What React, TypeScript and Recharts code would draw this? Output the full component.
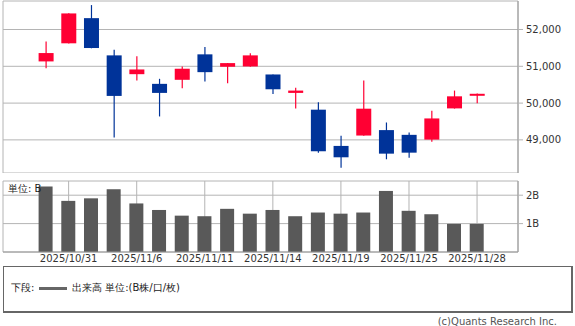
import React from 'react';
import { ComposedChart, Bar, XAxis, YAxis, CartesianGrid } from 'recharts';

const dates = [
  '2025/10/30', '2025/10/31', '2025/11/4', '2025/11/5', '2025/11/6',
  '2025/11/7', '2025/11/10', '2025/11/11', '2025/11/12', '2025/11/13',
  '2025/11/14', '2025/11/17', '2025/11/18', '2025/11/19', '2025/11/20',
  '2025/11/21', '2025/11/25', '2025/11/26', '2025/11/27', '2025/11/28',
];
const opens = [51133, 51625, 52309, 51297, 50786, 50523, 50633, 51325, 50988, 50996, 50778, 50277, 49821, 48836, 49118, 49266, 49137, 49008, 49856, 50231];
const highs = [51672, 52440, 52664, 51453, 51270, 50660, 50996, 51524, 51090, 51352, 50780, 50414, 50020, 49110, 50614, 49473, 49200, 49793, 50340, 50258];
const lows = [50950, 51620, 51490, 49063, 50614, 49637, 50403, 50586, 50540, 50990, 50250, 49856, 48653, 48243, 49110, 48473, 48516, 48946, 49850, 49993];
const closes = [51360, 52437, 51497, 50195, 50914, 50277, 50934, 50841, 51087, 51297, 50376, 50340, 48691, 48527, 49848, 48626, 48653, 49583, 50184, 50253];
const volumes = [2.31, 1.8, 1.89, 2.21, 1.71, 1.48, 1.28, 1.26, 1.52, 1.35, 1.48, 1.26, 1.39, 1.35, 1.39, 2.15, 1.45, 1.33, 0.99, 0.99];

const dateTicks = ['2025/10/31', '2025/11/6', '2025/11/11', '2025/11/14', '2025/11/19', '2025/11/25', '2025/11/28'];
const priceTicks = [49000, 50000, 51000, 52000];
const volumeTicks = [1, 2];

const RED = '#ff0033';
const BLUE = '#003399';
const GRID = '#b4b4b4';
const BORDER = '#9a9a9a';
const FONT = '"DejaVu Sans", sans-serif';

const data = dates.map((d, i) => ({
  date: d,
  open: opens[i],
  high: highs[i],
  low: lows[i],
  close: closes[i],
  range: [lows[i], highs[i]],
  volume: volumes[i],
}));

const PAD = { left: 31.6, right: 29.6 };

function Candle(props: any) {
  const { x, y, width, height, payload } = props;
  const { open, close, high, low } = payload;
  const color = close >= open ? RED : BLUE;
  const span = high - low || 1;
  const py = (v: number) => y + ((high - v) / span) * height;
  const top = py(Math.max(open, close));
  const bot = py(Math.min(open, close));
  const cx = x + width / 2;
  return (
    <g>
      <line x1={cx} x2={cx} y1={y} y2={y + height} stroke={color} strokeWidth={1.2} />
      <rect x={x} y={top} width={width} height={Math.max(bot - top, 2)} fill={color} />
    </g>
  );
}

const tickStyle = { fill: '#333', fontSize: 10, fontFamily: FONT };

export default function App() {
  return (
    <div style={{ position: 'absolute', left: 0, top: 0, width: 575, height: 326, background: '#fff', fontFamily: FONT }}>
      <ComposedChart width={575} height={173} data={data} margin={{ top: 1, right: 0, left: 3, bottom: 0 }}>
        <CartesianGrid stroke={GRID} />
        <XAxis dataKey="date" ticks={dateTicks} interval={0} padding={PAD} height={0} tick={false} tickLine={false} axisLine={{ stroke: BORDER }} />
        <XAxis xAxisId="top" dataKey="date" orientation="top" padding={PAD} height={0} tick={false} tickLine={false} axisLine={{ stroke: BORDER }} />
        <YAxis yAxisId="left" orientation="left" width={0} domain={[48100, 52775]} tick={false} tickLine={false} axisLine={{ stroke: BORDER }} />
        <YAxis
          orientation="right"
          width={57}
          domain={[48100, 52775]}
          ticks={priceTicks}
          tickFormatter={(v: number) => v.toLocaleString('en-US')}
          tick={tickStyle}
          tickSize={5}
          tickMargin={3}
          tickLine={{ stroke: GRID }}
          axisLine={{ stroke: BORDER }}
        />
        <Bar dataKey="range" barSize={15} shape={<Candle />} isAnimationActive={false} />
      </ComposedChart>

      <ComposedChart width={575} height={93} data={data} margin={{ top: 8, right: 0, left: 3, bottom: 0 }}>
        <CartesianGrid stroke={GRID} />
        <XAxis dataKey="date" ticks={dateTicks} interval={0} padding={PAD} height={14} tick={tickStyle} tickSize={0} tickMargin={3} tickLine={false} axisLine={{ stroke: BORDER }} />
        <XAxis xAxisId="top" dataKey="date" orientation="top" padding={PAD} height={0} tick={false} tickLine={false} axisLine={{ stroke: BORDER }} />
        <YAxis yAxisId="left" orientation="left" width={0} domain={[0, 2.5]} tick={false} tickLine={false} axisLine={{ stroke: BORDER }} />
        <YAxis
          orientation="right"
          width={57}
          domain={[0, 2.5]}
          ticks={volumeTicks}
          tickFormatter={(v: number) => `${v}B`}
          tick={tickStyle}
          tickSize={5}
          tickMargin={3}
          tickLine={{ stroke: GRID }}
          axisLine={{ stroke: BORDER }}
        />
        <Bar dataKey="volume" barSize={14} fill="#595959" isAnimationActive={false} />
      </ComposedChart>

      <div style={{ position: 'absolute', left: 8, top: 183, fontSize: 10, color: '#222', lineHeight: '12px' }}>単位: B</div>

      <div
        style={{
          position: 'absolute',
          left: 3,
          top: 266,
          width: 567,
          height: 44,
          border: '1px solid #666',
          borderRightWidth: 2,
          borderBottomWidth: 2,
          fontSize: 10,
          color: '#222',
        }}
      >
        <span style={{ position: 'absolute', left: 7, top: 14 }}>下段:</span>
        <span style={{ position: 'absolute', left: 35, top: 20, width: 28, height: 3, background: '#666' }} />
        <span style={{ position: 'absolute', left: 68, top: 14 }}>出来高 単位:(B株/口/枚)</span>
      </div>

      <div style={{ position: 'absolute', right: 18, top: 316, fontSize: 10, color: '#555' }}>(c)Quants Research Inc.</div>
    </div>
  );
}
